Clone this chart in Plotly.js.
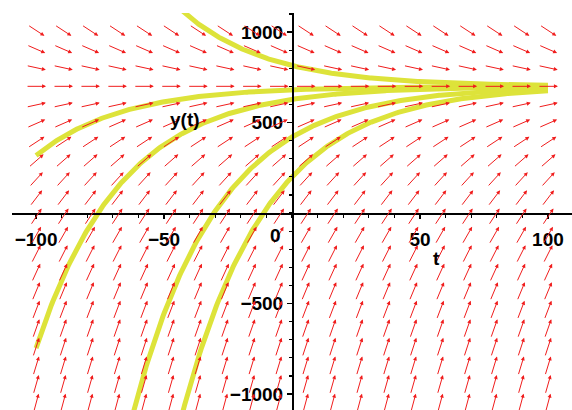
<!DOCTYPE html>
<html>
<head>
<meta charset="utf-8">
<script src="https://cdn.plot.ly/plotly-3.0.1.min.js"></script>
<style>
  html, body { margin: 0; padding: 0; background: #ffffff; }
  #chart { width: 572px; height: 410px; }
</style>
</head>
<body>
<div id="chart"></div>
<script>
// Direction field and solution curves for y'(t) = rate * (equilibrium - y)
const equilibrium = 700;
const rate = 0.03;

// initial values y(0) of the plotted solution curves
const initialValues = [815, 681, 628, 420, 200];

// arrow grid: 20 columns across t = -100..100, rows spaced around the equilibrium
const gridCols = 20;
const tStart = -100, tEnd = 100;
const rowStep = 103;
const rowsBelow = 17, rowsAbove = 3;

// axis tick labels
const xTickVals = [-100, -50, 50, 100];
const yTickVals = [-1000, -500, 500, 1000];

const W = 572, H = 410;
const margin = { l: 12, r: 0, t: 13, b: 0, pad: 0 };
const tRange = [-109.4, 109.4];
const yRange = [-1088, 1105];

const slope = (t, y) => rate * (equilibrium - y);

// numerical solution (RK4) from t = 0 forward and backward
function solve(y0) {
  const h = 0.5;
  const fwd = [[0, y0]];
  let y = y0;
  for (let t = 0; t < tEnd - 1e-9; t += h) {
    const k1 = slope(t, y), k2 = slope(t + h / 2, y + h * k1 / 2);
    const k3 = slope(t + h / 2, y + h * k2 / 2), k4 = slope(t + h, y + h * k3);
    y += h * (k1 + 2 * k2 + 2 * k3 + k4) / 6;
    fwd.push([t + h, y]);
  }
  const back = [];
  y = y0;
  for (let t = 0; t > tStart + 1e-9; t -= h) {
    const k1 = slope(t, y), k2 = slope(t - h / 2, y - h * k1 / 2);
    const k3 = slope(t - h / 2, y - h * k2 / 2), k4 = slope(t - h, y - h * k3);
    y -= h * (k1 + 2 * k2 + 2 * k3 + k4) / 6;
    back.push([t - h, y]);
  }
  const pts = back.reverse().concat(fwd);
  return { t: pts.map(p => p[0]), y: pts.map(p => p[1]) };
}

const traces = initialValues.map(y0 => {
  const s = solve(y0);
  return {
    type: 'scatter', mode: 'lines', x: s.t, y: s.y,
    line: { color: '#dde33a', width: 5 },
    hoverinfo: 'skip', showlegend: false
  };
});

// arrows of constant on-screen length, centred on the grid points
const pxPerT = (W - margin.l - margin.r) / (tRange[1] - tRange[0]);
const pxPerY = (H - margin.t - margin.b) / (yRange[1] - yRange[0]);
const arrowLen = 20;
const annotations = [];
for (let i = 0; i < gridCols; i++) {
  const t = tStart + i * (tEnd - tStart) / (gridCols - 1);
  for (let j = -rowsBelow; j <= rowsAbove; j++) {
    const y = equilibrium + j * rowStep;
    const dxp = pxPerT, dyp = slope(t, y) * pxPerY;
    const n = Math.hypot(dxp, dyp);
    const ht = (arrowLen / 2) * (dxp / n) / pxPerT;
    const hy = (arrowLen / 2) * (dyp / n) / pxPerY;
    annotations.push({
      x: t + ht, y: y + hy, ax: t - ht, ay: y - hy,
      xref: 'x', yref: 'y', axref: 'x', ayref: 'y',
      text: '', showarrow: true,
      arrowhead: 2, arrowsize: 0.8, arrowwidth: 1,
      arrowcolor: '#f01c1c', standoff: 0, startstandoff: 0
    });
  }
}

const labelFont = { family: 'Liberation Sans, Arial, sans-serif', size: 19, color: '#000000', weight: 'bold' };
annotations.push(
  { x: -41.8, y: 514, xref: 'x', yref: 'y', text: 'y(t)', showarrow: false, font: labelFont },
  { x: 56.5, y: -250, xref: 'x', yref: 'y', text: 't', showarrow: false, font: labelFont },
  { x: 0, y: 0, xref: 'x', yref: 'y', text: '0', showarrow: false, font: labelFont,
    xanchor: 'right', yanchor: 'top', xshift: -9, yshift: -10 }
);

const layout = {
  width: W, height: H, margin: margin,
  paper_bgcolor: '#ffffff', plot_bgcolor: '#ffffff',
  showlegend: false,
  xaxis: {
    range: tRange, anchor: 'free',
    position: (0 - yRange[0]) / (yRange[1] - yRange[0]),
    showline: true, linecolor: '#000000', linewidth: 1.5,
    zeroline: false, showgrid: false,
    tickmode: 'array', tickvals: xTickVals,
    ticks: 'outside', ticklen: 4, tickcolor: '#000000', tickwidth: 1.2,
    ticklabelstandoff: 5,
    minor: { dtick: 10, ticks: 'outside', ticklen: 3, tickcolor: '#000000', showgrid: false },
    tickfont: labelFont, automargin: false, fixedrange: true
  },
  yaxis: {
    range: yRange, anchor: 'free',
    position: (0 - tRange[0]) / (tRange[1] - tRange[0]),
    showline: true, linecolor: '#000000', linewidth: 1.5,
    zeroline: false, showgrid: false,
    tickmode: 'array', tickvals: yTickVals,
    ticks: 'outside', ticklen: 5, tickcolor: '#000000', tickwidth: 1.2,
    minor: { dtick: 100, ticks: 'outside', ticklen: 3, tickcolor: '#000000', showgrid: false },
    tickfont: labelFont, automargin: false, fixedrange: true
  },
  annotations: annotations
};

Plotly.newPlot('chart', traces, layout, { displayModeBar: false, staticPlot: true });
</script>
</body>
</html>
